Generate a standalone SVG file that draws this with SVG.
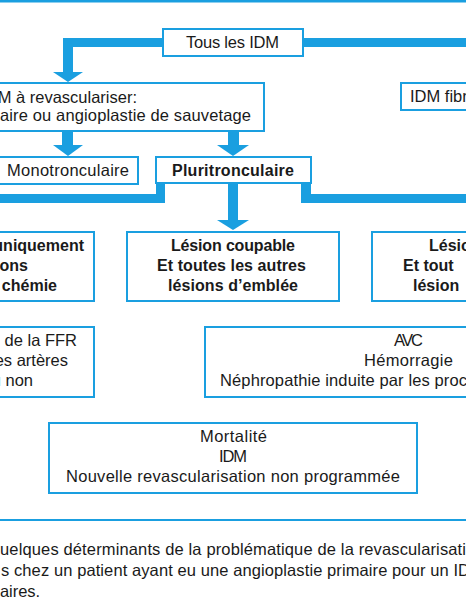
<svg xmlns="http://www.w3.org/2000/svg" width="466" height="600" viewBox="0 0 466 600">
<style>
.box{fill:#fff;stroke:#1a9fe0;stroke-width:2}
.bar{fill:#1a9fe0}
text{font-family:"Liberation Sans",Arial,sans-serif;font-size:16.5px;fill:#1a1a1a}
.b{font-weight:bold;font-size:16px}
.c{text-anchor:middle}
.e{text-anchor:end}
</style>
<rect width="466" height="600" fill="#fff"/>
<rect class="bar" x="0" y="0" width="466" height="2.5"/>
<g id="connectors">
<rect class="bar" x="63" y="38" width="100" height="9"/>
<rect class="bar" x="63" y="38" width="10" height="35"/>
<polygon class="bar" points="53,72 83,72 68,82"/>
<rect class="bar" x="303" y="38" width="163" height="9"/>
<rect class="bar" x="62" y="131" width="11" height="15"/>
<polygon class="bar" points="53,145 83,145 68,156"/>
<rect class="bar" x="228" y="131" width="11" height="15"/>
<polygon class="bar" points="217,145 249,145 233,156"/>
<rect class="bar" x="156" y="183" width="9" height="20"/>
<rect class="bar" x="0" y="194" width="165" height="9"/>
<rect class="bar" x="301" y="183" width="10" height="20"/>
<rect class="bar" x="301" y="194" width="165" height="9"/>
<rect class="bar" x="228" y="183" width="10" height="38"/>
<polygon class="bar" points="217,220 249,220 233,230"/>
</g>
<g id="tous"><rect class="box" x="163" y="29" width="140" height="27"/><text x="186" y="48" textLength="93">Tous les IDM</text></g>
<g id="revasc"><rect class="box" x="-10" y="83" width="274" height="48"/><text class="e" x="137" y="103">M à revasculariser:</text><text x="0" y="121" textLength="251">aire ou angioplastie de sauvetage</text></g>
<g id="fibr"><rect class="box" x="401" y="83" width="80" height="27"/><text x="410" y="102">IDM fibr</text></g>
<g id="mono"><rect class="box" x="-10" y="157" width="148" height="27"/><text x="7" y="176" textLength="122">Monotronculaire</text></g>
<g id="pluri"><rect class="box" x="156" y="157" width="155" height="26"/><text class="b" x="172" y="176" textLength="122">Pluritronculaire</text></g>
<g id="gauche3"><rect class="box" x="-10" y="232" width="104" height="69"/><text class="e b" x="84" y="251">uniquement</text><text class="e b" x="28" y="271">ons</text><text class="e b" x="57" y="291">chémie</text></g>
<g id="milieu3"><rect class="box" x="127" y="232" width="212" height="69"/><text class="b" x="171" y="251" textLength="124">Lésion coupable</text><text class="b" x="157" y="271" textLength="149">Et toutes les autres</text><text class="b" x="168" y="291" textLength="130">lésions d’emblée</text></g>
<g id="droite3"><rect class="box" x="372" y="232" width="110" height="69"/><text class="b" x="429" y="251">Lésio</text><text class="b" x="403" y="271">Et tout</text><text class="b" x="413" y="291">lésion</text></g>
<g id="gauche4"><rect class="box" x="-10" y="327" width="104" height="70"/><text class="e" x="77" y="346">n de la FFR</text><text class="e" x="68" y="366">es artères</text><text class="e" x="33" y="386">u non</text></g>
<g id="droite4"><rect class="box" x="205" y="327" width="280" height="70"/><text x="394" y="346" textLength="29">AVC</text><text x="364" y="366" textLength="89">Hémorragie</text><text x="220" y="386" textLength="247">Néphropathie induite par les proc</text></g>
<g id="issues"><rect class="box" x="49" y="423" width="368" height="70"/><text x="200" y="442" textLength="67">Mortalité</text><text x="219" y="462" textLength="28">IDM</text><text x="66" y="482" textLength="334">Nouvelle revascularisation non programmée</text></g>
<rect class="bar" x="0" y="519" width="466" height="2"/>
<text x="0" y="555" textLength="466">uelques déterminants de la problématique de la revascularisati</text>
<text x="1" y="576" textLength="469">s chez un patient ayant eu une angioplastie primaire pour un ID</text>
<text x="0" y="597" textLength="40">aires.</text>
</svg>
